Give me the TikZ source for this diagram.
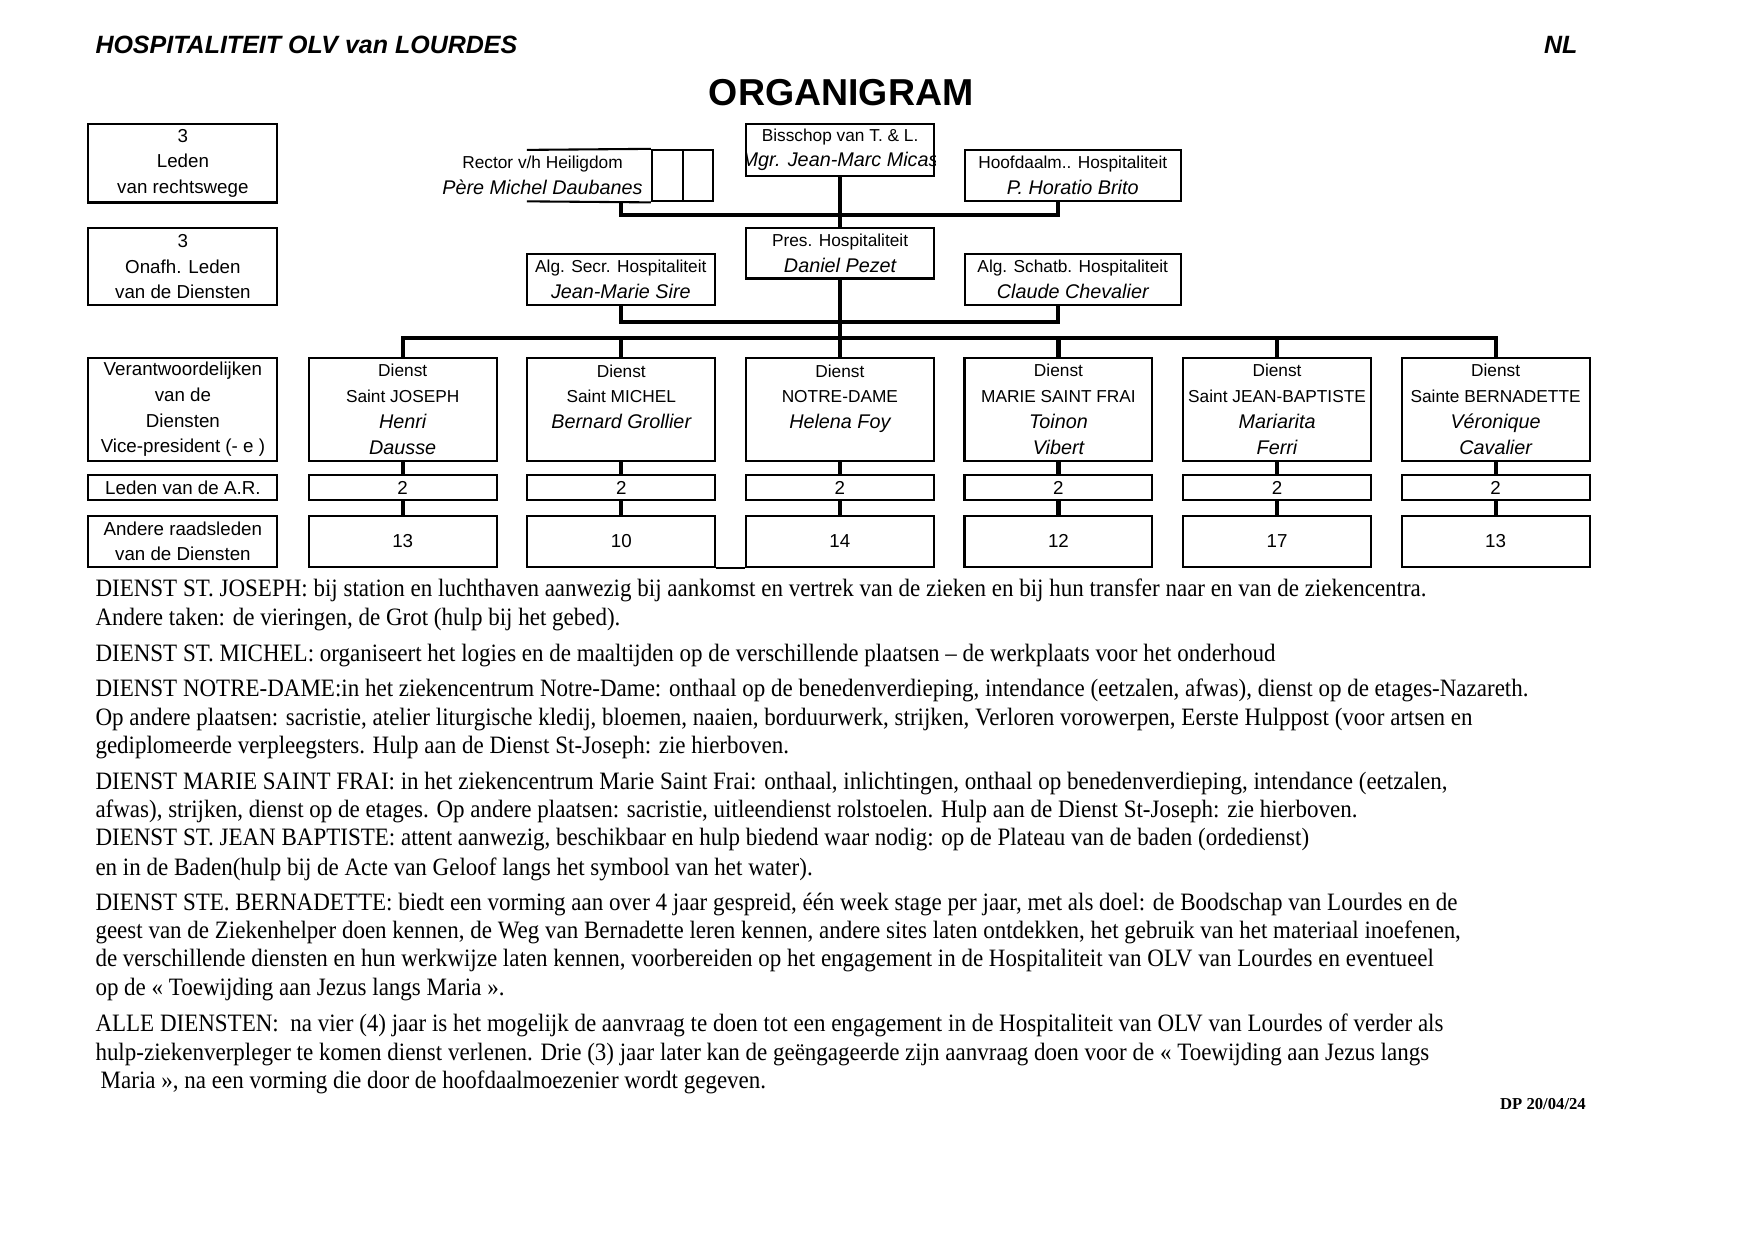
\documentclass[tikz,border=0pt]{standalone}
\usepackage{fontspec}
\setmainfont{Liberation Serif}
\setsansfont{Liberation Sans}
\newfontfamily\tekstfont{Liberation Serif}[FakeStretch=0.92]
\newlength\eenh
\setlength\eenh{0.537pt}
\newcommand\pers[1]{{\fontsize{9.5}{12.35}\selectfont\itshape #1}}

\begin{document}
\begin{tikzpicture}[x=0.537pt,y=-0.537pt,
  vak/.style={draw,line width=1pt,inner sep=0pt,align=center,minimum width=168\eenh,
    font=\fontsize{8.3}{12.35}\selectfont\sffamily},
  breedvak/.style={vak,minimum width=193\eenh},
  linksvak/.style={vak,minimum width=169\eenh,font=\fontsize{9}{12.35}\selectfont\sffamily},
  getal/.style={vak,font=\fontsize{9}{12.35}\selectfont\sffamily},
  lijn/.style={line width=2pt},
  regel/.style={anchor=base west,inner sep=0pt,font=\fontsize{12}{14}\selectfont\tekstfont}]
\useasboundingbox (0,0) rectangle (1568,1108.5);

% Kop
\node[anchor=base west,inner sep=0pt,font=\fontsize{12}{14}\selectfont\sffamily\bfseries\itshape] (kop) at (85,48) {HOSPITALITEIT OLV van LOURDES};
\node[anchor=base west,inner sep=0pt,font=\fontsize{12}{14}\selectfont\sffamily\bfseries\itshape] (taal) at (1380,48) {NL};
\node[anchor=base,inner sep=0pt,font=\fontsize{18}{20}\selectfont\sffamily\bfseries] (titel) at (752,94) {ORGANIGRAM};

% Linker kolom
\node[linksvak,minimum height=70\eenh] (vast) at (163.5,146) {3\\Leden\\van rechtswege};
\node[linksvak,minimum height=69\eenh] (onafh) at (163.5,238.5) {3\\Onafh. Leden\\van de Diensten};
\node[linksvak,minimum height=92\eenh] (verantw) at (163.5,366) {Verantwoordelijken\\van de\\Diensten\\Vice-president (- e )};
\node[linksvak,minimum height=22\eenh] (ledenar) at (163.5,436) {Leden van de A.R.};
\node[linksvak,minimum height=46\eenh] (andere) at (163.5,484) {Andere raadsleden\\van de Diensten};

% Top
\node[vak,minimum height=46\eenh] (bis) at (751,134) {};
\begin{scope}
  \clip (bis.south west) rectangle (bis.north east);
  \node[align=center,inner sep=0pt,font=\fontsize{8.3}{12.35}\selectfont\sffamily] (bistekst) at (bis) {Bisschop van T. \& L.\\\pers{Mgr. Jean-Marc Micas}};
\end{scope}
\node[align=center,inner sep=0pt,font=\fontsize{8.3}{12.35}\selectfont\sffamily] (rector) at (485,157) {Rector v/h Heiligdom\\\pers{Père Michel Daubanes}};
\node[draw,line width=1pt,inner sep=0pt,minimum width=27.5\eenh,minimum height=46\eenh] (cel1) at (596.5,157) {};
\node[draw,line width=1pt,inner sep=0pt,minimum width=27.5\eenh,minimum height=46\eenh] (cel2) at (624,157) {};
\draw[line width=1pt] (471,134) -- (cel1.north west);
\draw[line width=1pt] (471,180) -- (cel1.south west);
\node[breedvak,minimum height=46\eenh] (hfd) at (959,157) {Hoofdaalm.. Hospitaliteit\\\pers{P. Horatio Brito}};
\node[vak,minimum height=45\eenh] (pres) at (751,226.5) {Pres. Hospitaliteit\\\pers{Daniel Pezet}};
\node[vak,minimum height=46\eenh] (sec) at (555,250) {Alg. Secr. Hospitaliteit\\\pers{Jean-Marie Sire}};
\node[breedvak,minimum height=46\eenh] (sch) at (959,250) {Alg. Schatb. Hospitaliteit\\\pers{Claude Chevalier}};

\coordinate (rvoet) at (555,180);
\draw[lijn] (rvoet) -- ++(0,12) -| ([xshift=-13\eenh]hfd.south);
\draw[lijn] (bis.south) -- (pres.north);
\draw[lijn] (sec.south) -- ++(0,14) -| ([xshift=-13\eenh]sch.south);

% Diensten
\foreach \i/\naam/\voor/\achter/\aantal in {0/Saint JOSEPH/Henri/Dausse/13,
    1/Saint MICHEL/Bernard Grollier/\mbox{}/10, 2/NOTRE-DAME/Helena Foy/\mbox{}/14,
    3/MARIE SAINT FRAI/Toinon/Vibert/12, 4/Saint JEAN-BAPTISTE/Mariarita/Ferri/17,
    5/Sainte BERNADETTE/Véronique/Cavalier/13}{
  \pgfmathsetmacro\cx{360+195.4*\i}
  \node[vak,minimum height=92\eenh] (dienst\i) at (\cx,366) {Dienst\\\naam\\\pers{\voor}\\\pers{\achter}};
  \node[getal,minimum height=22\eenh] (ar\i) at (\cx,436) {2};
  \node[getal,minimum height=46\eenh] (raad\i) at (\cx,484) {\aantal};
  \draw[lijn] (dienst\i.south) -- (ar\i.north);
  \draw[lijn] (ar\i.south) -- (raad\i.north);
}
\draw[line width=1pt] (raad1.south east) -- (raad2.south west);

\coordinate (bus) at (751,302);
\draw[lijn] (dienst0.north) -- (dienst0.north |- bus) -- (dienst5.north |- bus) -- (dienst5.north);
\foreach \i in {1,...,4}
  \draw[lijn] (dienst\i.north |- bus) -- (dienst\i.north);
\draw[lijn] (pres.south) -- (pres.south |- bus);

% Toelichting
\foreach \y/\txt [count=\k] in {
  533/{DIENST ST. JOSEPH: bij station en luchthaven aanwezig bij aankomst en vertrek van de zieken en bij hun transfer naar en van de ziekencentra.},
  559/{Andere taken: de vieringen, de Grot (hulp bij het gebed).},
  591/{DIENST ST. MICHEL: organiseert het logies en de maaltijden op de verschillende plaatsen – de werkplaats voor het onderhoud},
  623/{DIENST NOTRE-DAME:in het ziekencentrum Notre-Dame: onthaal op de benedenverdieping, intendance (eetzalen, afwas), dienst op de etages-Nazareth.},
  649/{Op andere plaatsen: sacristie, atelier liturgische kledij, bloemen, naaien, borduurwerk, strijken, Verloren vorowerpen, Eerste Hulppost (voor artsen en},
  674/{gediplomeerde verpleegsters. Hulp aan de Dienst St-Joseph: zie hierboven.},
  706/{DIENST MARIE SAINT FRAI: in het ziekencentrum Marie Saint Frai: onthaal, inlichtingen, onthaal op benedenverdieping, intendance (eetzalen,},
  731/{afwas), strijken, dienst op de etages. Op andere plaatsen: sacristie, uitleendienst rolstoelen. Hulp aan de Dienst St-Joseph: zie hierboven.},
  756/{DIENST ST. JEAN BAPTISTE: attent aanwezig, beschikbaar en hulp biedend waar nodig: op de Plateau van de baden (ordedienst)},
  783/{en in de Baden(hulp bij de Acte van Geloof langs het symbool van het water).},
  814/{DIENST STE. BERNADETTE: biedt een vorming aan over 4 jaar gespreid, één week stage per jaar, met als doel: de Boodschap van Lourdes en de},
  839/{geest van de Ziekenhelper doen kennen, de Weg van Bernadette leren kennen, andere sites laten ontdekken, het gebruik van het materiaal inoefenen,},
  864/{de verschillende diensten en hun werkwijze laten kennen, voorbereiden op het engagement in de Hospitaliteit van OLV van Lourdes en eventueel},
  890/{op de « Toewijding aan Jezus langs Maria ».},
  922/{ALLE DIENSTEN:\ \ na vier (4) jaar is het mogelijk de aanvraag te doen tot een engagement in de Hospitaliteit van OLV van Lourdes of verder als},
  948/{hulp-ziekenverpleger te komen dienst verlenen. Drie (3) jaar later kan de geëngageerde zijn aanvraag doen voor de « Toewijding aan Jezus langs},
  973/{\hspace*{2.5pt}Maria », na een vorming die door de hoofdaalmoezenier wordt gegeven.}}
  \node[regel] (regel\k) at (85,\y) {\txt};
\node[anchor=base east,inner sep=0pt,font=\fontsize{8}{9}\selectfont\bfseries] (datum) at (1418,992) {DP 20/04/24};
\end{tikzpicture}
\end{document}
